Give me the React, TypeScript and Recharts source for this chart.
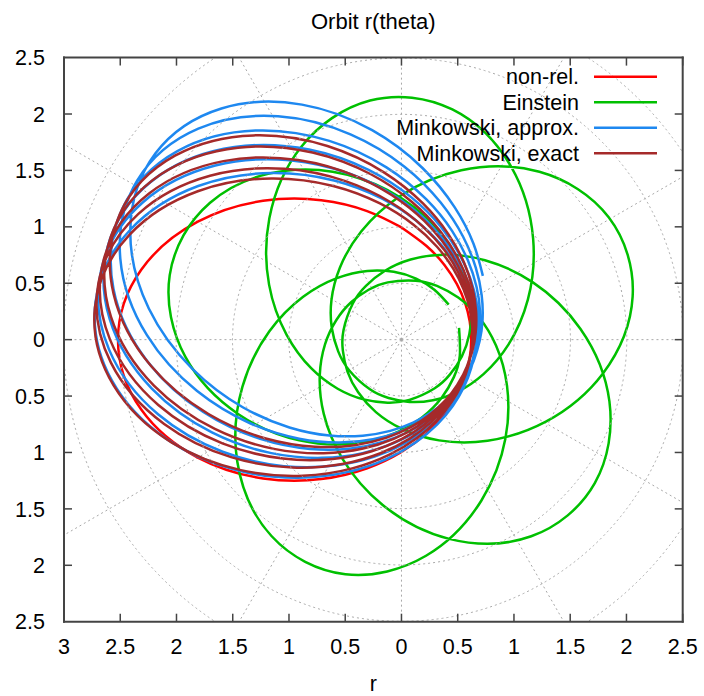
import { LineChart, Line, XAxis, YAxis, ReferenceDot, ReferenceLine, Legend } from 'recharts'

const seriesNames = ['non-rel.', 'Einstein', 'Minkowski, approx.', 'Minkowski, exact']
const seriesColors = ['#ff0000', '#00c000', '#1e88f0', '#a52a2a']

const xTicks = [-3, -2.5, -2, -1.5, -1, -0.5, 0, 0.5, 1, 1.5, 2, 2.5]
const yTicks = [-2.5, -2, -1.5, -1, -0.5, 0, 0.5, 1, 1.5, 2, 2.5]
const gridRadii = [0.5, 1, 1.5, 2, 2.5, 3]
const gridAngles = [0, 30, 60, 90, 120, 150, 180, 210, 240, 270, 300, 330]

// one turn of an orbit, r read every 15 deg measured from perihelion
const turnAngles = [0, 15, 30, 45, 60, 75, 90, 105, 120, 135, 150, 165, 180, 195, 210, 225, 240, 255, 270, 285, 300, 315, 330, 345]

const nonRelR = [0.62, 0.628, 0.653, 0.697, 0.764, 0.86, 0.995, 1.18, 1.427, 1.74, 2.091, 2.395, 2.52, 2.395, 2.091, 1.74, 1.427, 1.18, 0.995, 0.86, 0.764, 0.697, 0.653, 0.628]
const nonRelPeri = [0]

const approxR = [0.66, 0.669, 0.695, 0.743, 0.815, 0.918, 1.064, 1.264, 1.533, 1.875, 2.263, 2.6, 2.74, 2.6, 2.263, 1.875, 1.533, 1.264, 1.064, 0.918, 0.815, 0.743, 0.695, 0.669]
const approxPeri = [-37, -31, -25, -19, -13, -7]

const exactR = [0.63, 0.638, 0.664, 0.71, 0.78, 0.882, 1.024, 1.222, 1.491, 1.838, 2.238, 2.591, 2.74, 2.591, 2.238, 1.838, 1.491, 1.222, 1.024, 0.882, 0.78, 0.71, 0.664, 0.638]
const exactPeri = [-24, -19.5, -15, -10.5, -6]

// Einstein: perihelion to perihelion spans about 427 deg, r read every 20 deg
const einsteinAngles = [0, 20, 40, 60, 80, 100, 120, 140, 160, 180, 200, 220, 240, 260, 280, 300, 320, 340, 360, 380, 400]
const einsteinR = [0.522, 0.53, 0.557, 0.605, 0.681, 0.792, 0.953, 1.178, 1.475, 1.816, 2.09, 2.138, 1.928, 1.593, 1.274, 1.023, 0.842, 0.715, 0.628, 0.572, 0.538]
const einsteinPeri = [36.5, 103.5, 170.5, 237.5, 304.5]

type Pt = { x: number; y: number }

const polar = (deg: number, r: number): Pt => {
  const a = (deg * Math.PI) / 180
  return { x: r * Math.cos(a), y: r * Math.sin(a) }
}

// walk the turns in order, starting at sample `from` of the first turn,
// and finish on sample `to` of the turn after the last one
function orbit(peri: number[], angles: number[], radii: number[], span: number, from: number, to: number) {
  const pts: Pt[] = []
  peri.forEach((p, j) => {
    angles.forEach((a, i) => {
      if (j === 0 && i < from) return
      pts.push(polar(p + a, radii[i]))
    })
  })
  const next = peri[peri.length - 1] + span
  for (let i = 0; i <= to; i++) pts.push(polar(next + angles[i], radii[i]))
  return pts
}

const nonRelData = orbit(nonRelPeri, turnAngles, nonRelR, 360, 6, 6)
const einsteinData = orbit(einsteinPeri, einsteinAngles, einsteinR, 427, 0, 0)
const approxData = orbit(approxPeri, turnAngles, approxR, 360, 5, 0)
const exactData = orbit(exactPeri, turnAngles, exactR, 360, 0, 0)
const seriesData = [nonRelData, einsteinData, approxData, exactData]

const W = 704
const H = 696
const PLOT = { left: 64, top: 57.6, right: 682.7, bottom: 621.7 }
const pxX = (PLOT.right - PLOT.left) / 5.5
const pxY = (PLOT.bottom - PLOT.top) / 5
const pxPerUnit = (pxX + pxY) / 2
const TICK = 8
const EDGE = '#444444'

const fontFamily = "'Liberation Sans', Arial, Helvetica, sans-serif"
const tickStyle = { fontSize: 21.5, fill: '#000000', fontFamily }
const gridStyle = { stroke: '#a8a8a8', strokeWidth: 1, strokeDasharray: '2 3' }
const absLabel = (v: number) => String(Math.abs(v))
const toPxX = (v: number) => PLOT.left + (v + 3) * pxX
const toPxY = (v: number) => PLOT.bottom - (v + 2.5) * pxY

function LegendBox() {
  return (
    <svg width={W} height={115} style={{ fontFamily, overflow: 'visible' }}>
      {seriesNames.map((name, i) => {
        const y = 14.7 + i * 25.5
        return (
          <g key={name}>
            <text x={579} y={y + 7.5} textAnchor="end" fontSize={21.5} fill="#000000">
              {name}
            </text>
            <line x1={594} x2={657} y1={y} y2={y} stroke={seriesColors[i]} strokeWidth={2.5} />
          </g>
        )
      })}
    </svg>
  )
}

// plot border and inward ticks on all four sides, plus the title
function FrameOverlay() {
  const xs = xTicks.slice(1).map(toPxX)
  const ys = yTicks.slice(1, -1).map(toPxY)
  const sides = [
    [PLOT.left, PLOT.top, PLOT.right, PLOT.top],
    [PLOT.right, PLOT.top, PLOT.right, PLOT.bottom],
    [PLOT.left, PLOT.bottom, PLOT.right, PLOT.bottom],
    [PLOT.left, PLOT.top, PLOT.left, PLOT.bottom],
  ]
  return (
    <svg width={W} height={H} style={{ position: 'absolute', left: 0, top: 0, pointerEvents: 'none' }}>
      <text x={(PLOT.left + PLOT.right) / 2} y={28.5} textAnchor="middle" fontSize={22} fill="#000000" fontFamily={fontFamily}>
        Orbit r(theta)
      </text>
      {sides.map(([x1, y1, x2, y2], i) => (
        <line key={`side-${i}`} x1={x1} y1={y1} x2={x2} y2={y2} stroke={EDGE} strokeWidth={2} strokeLinecap="square" />
      ))}
      {xs.map((x) => (
        <g key={`xt-${x}`}>
          <line x1={x} x2={x} y1={PLOT.bottom} y2={PLOT.bottom - TICK} stroke={EDGE} strokeWidth={1.5} />
          <line x1={x} x2={x} y1={PLOT.top} y2={PLOT.top + TICK} stroke={EDGE} strokeWidth={1.5} />
        </g>
      ))}
      {ys.map((y) => (
        <g key={`yt-${y}`}>
          <line x1={PLOT.left} x2={PLOT.left + TICK} y1={y} y2={y} stroke={EDGE} strokeWidth={1.5} />
          <line x1={PLOT.right} x2={PLOT.right - TICK} y1={y} y2={y} stroke={EDGE} strokeWidth={1.5} />
        </g>
      ))}
    </svg>
  )
}

export default function App() {
  return (
    <div style={{ position: 'absolute', left: 0, top: 0, width: W, height: H, background: '#ffffff', fontFamily }}>
      <LineChart
        width={W}
        height={H}
        margin={{ top: PLOT.top, right: W - PLOT.right, bottom: H - PLOT.bottom - 40, left: PLOT.left - 56 }}
      >
        <XAxis
          type="number"
          dataKey="x"
          domain={[-3, 2.5]}
          ticks={xTicks}
          interval={0}
          allowDataOverflow
          tickFormatter={absLabel}
          tick={tickStyle}
          tickSize={-TICK}
          tickMargin={25}
          height={40}
          axisLine={false}
          tickLine={false}
          label={{ value: 'r', position: 'bottom', offset: 14, fontSize: 21.5, fill: '#000000' }}
        />
        <YAxis
          type="number"
          domain={[-2.5, 2.5]}
          ticks={yTicks}
          interval={0}
          allowDataOverflow
          tickFormatter={absLabel}
          tick={tickStyle}
          tickSize={-TICK}
          tickMargin={27}
          width={56}
          axisLine={false}
          tickLine={false}
        />

        {gridRadii.map((r) => (
          <ReferenceDot
            key={`ring-${r}`}
            x={0}
            y={0}
            r={r * pxPerUnit}
            fill="none"
            ifOverflow="hidden"
            {...gridStyle}
          />
        ))}
        {gridAngles.map((a) => (
          <ReferenceLine
            key={`spoke-${a}`}
            segment={[{ x: 0, y: 0 }, polar(a, 4)]}
            ifOverflow="hidden"
            {...gridStyle}
          />
        ))}

        {seriesNames.map((name, i) => (
          <Line
            key={name}
            name={name}
            data={seriesData[i]}
            dataKey="y"
            type="natural"
            stroke={seriesColors[i]}
            strokeWidth={2.5}
            dot={false}
            activeDot={false}
            isAnimationActive={false}
          />
        ))}

        <Legend
          layout="vertical"
          align="center"
          verticalAlign="middle"
          width={W}
          height={115}
          wrapperStyle={{ top: 62, left: 0 }}
          content={() => <LegendBox />}
        />
      </LineChart>
      <FrameOverlay />
    </div>
  )
}
